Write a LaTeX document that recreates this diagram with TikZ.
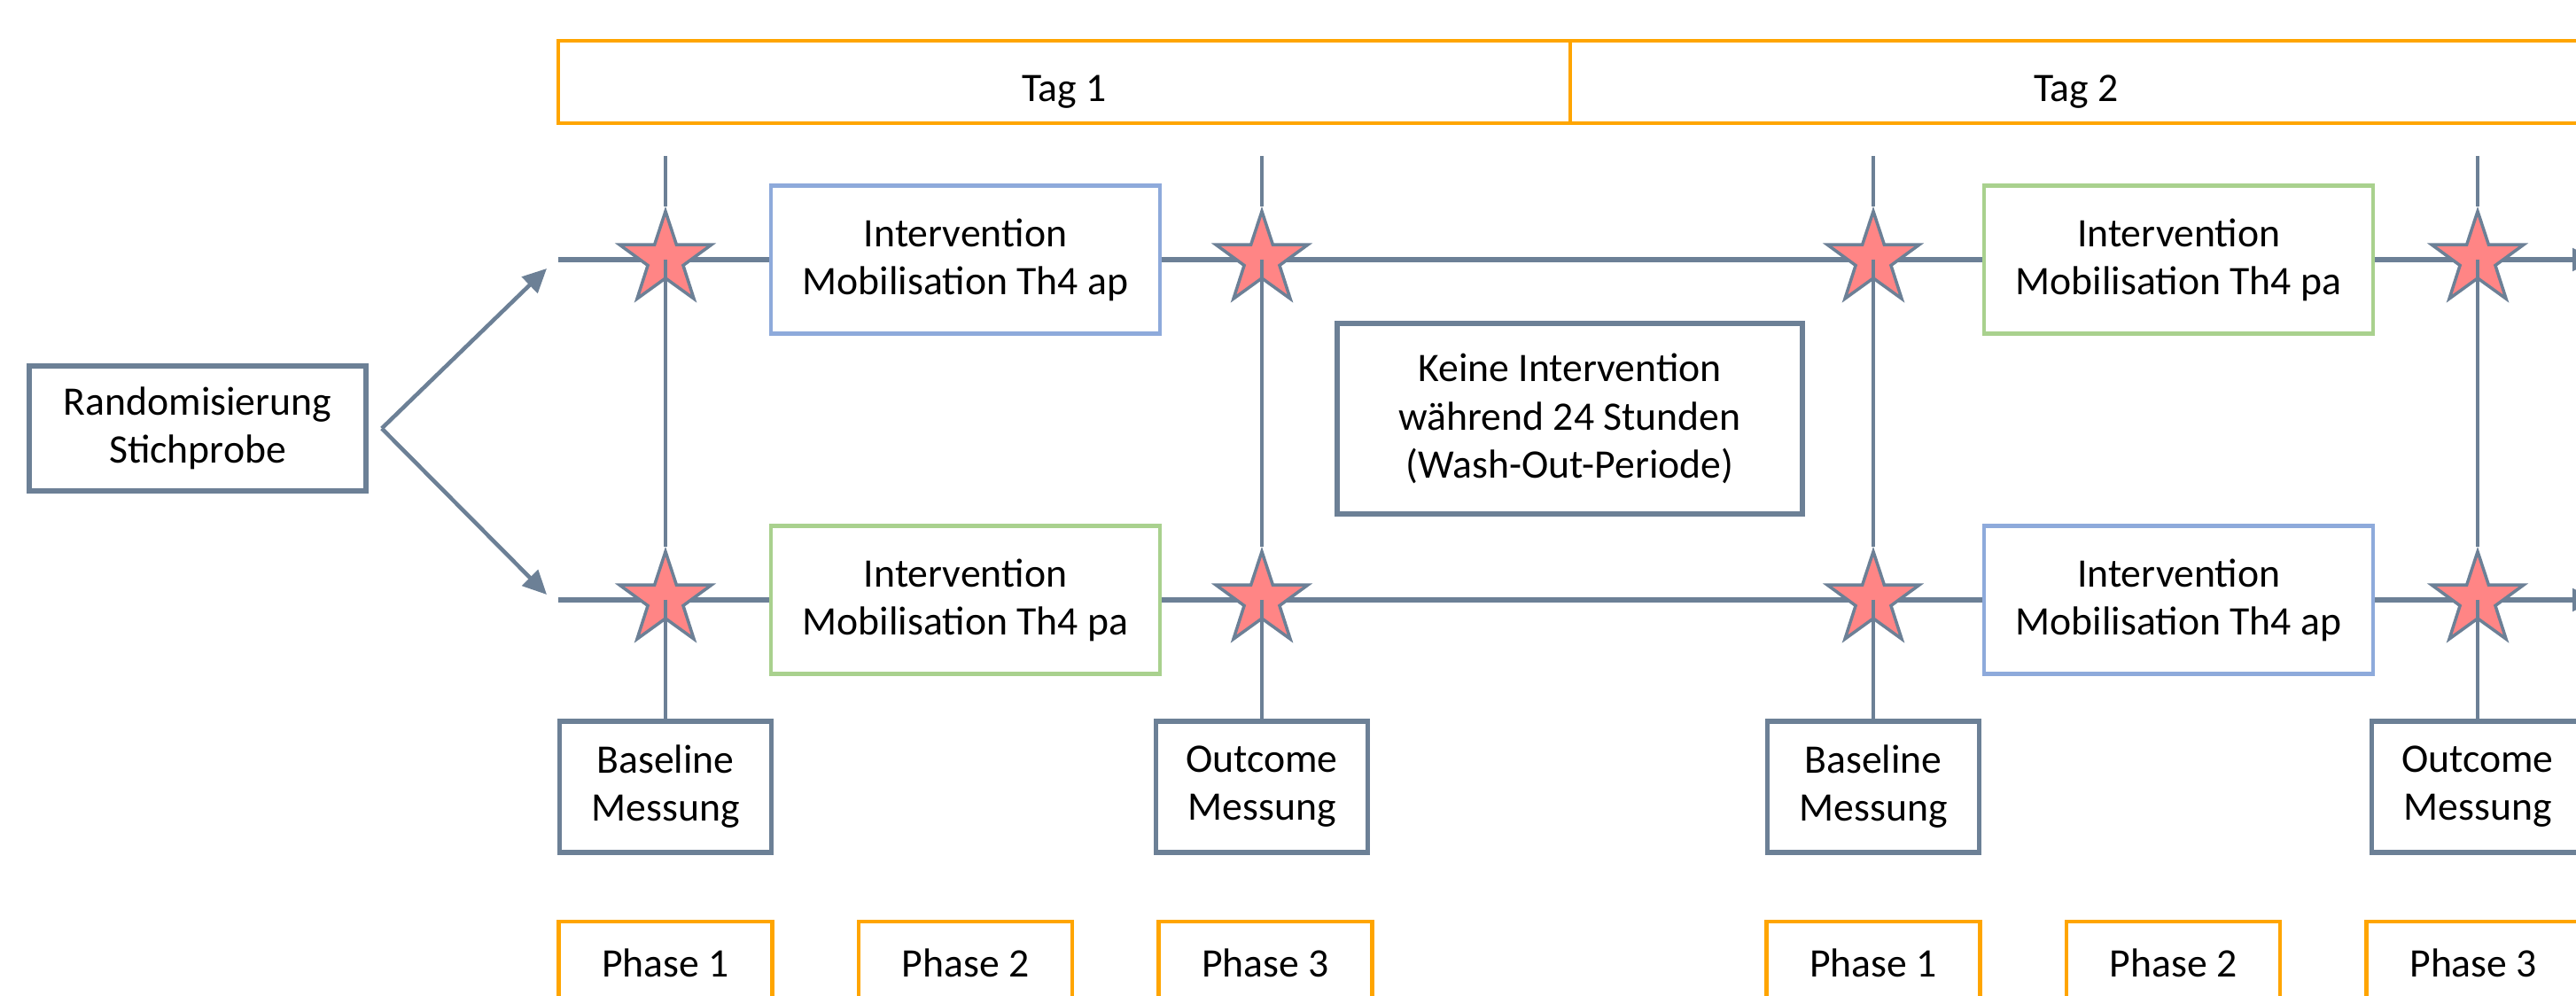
\documentclass[tikz,border=0pt]{standalone}
\usepackage{fontspec}
\setmainfont{Carlito}
\usetikzlibrary{shapes, arrows, arrows.meta, positioning}

\definecolor{slate}{HTML}{6C8096}
\definecolor{tagorange}{HTML}{FFA500}
\definecolor{apblue}{HTML}{8EAADB}
\definecolor{pagreen}{HTML}{A9D18E}
\definecolor{starred}{HTML}{FF8585}

\begin{document}
\begin{tikzpicture}[
        node distance=0.93cm,
        font=\fontsize{13}{15.4}\selectfont,
        lowered/.style={
            execute at begin node={\rule{0pt}{14.5pt}}
        },
        box/.style={
            rectangle,
            draw=slate,
            line width=1.6pt,
            fill=white,
            align=center,
            inner sep=0pt,
            lowered
        },
        messbox/.style={
            box,
            minimum width=2.39cm,
            minimum height=1.48cm
        },
        daybox/.style={
            rectangle,
            draw=tagorange,
            line width=1.3pt,
            outer sep=0pt,
            minimum width=11.42cm,
            minimum height=0.93cm,
            lowered
        },
        phasebox/.style={
            rectangle,
            draw=tagorange,
            line width=1.3pt,
            minimum width=2.41cm,
            minimum height=0.93cm
        },
        intap/.style={
            rectangle,
            draw=apblue,
            line width=1.3pt,
            fill=white,
            align=center,
            minimum width=4.39cm,
            minimum height=1.67cm,
            lowered
        },
        intpa/.style={
            intap,
            draw=pagreen
        },
        starmark/.style={
            star,
            star points=5,
            star point ratio=2.6,
            minimum size=1.09cm,
            inner sep=0pt,
            draw=slate,
            line width=1pt,
            fill=starred
        },
        track/.style={
            draw=slate,
            line width=1.5pt
        },
        pole/.style={
            draw=slate,
            line width=0.9pt
        },
        tip/.style={
            -{Triangle[length=0.27cm, width=0.25cm]}
        },
        split/.style={
            draw=slate,
            line width=1.3pt,
            tip
        }
    ]
        \useasboundingbox (0,0) rectangle (29.07,-11.24);
        \clip (0,0) rectangle (29.07,-11.24);

        % Nodes
        \node [box, minimum width=3.8cm, minimum height=1.41cm] (rand) at (2.23,-4.835) {Randomisierung\\Stichprobe};
        \node [daybox] (tag1) at (12.01,-0.925) {Tag 1};
        \node [daybox, right=0cm of tag1] (tag2) {Tag 2};

        \node [intap] (apA) at (10.895,-2.93) {Intervention\\Mobilisation Th4 ap};
        \node [intpa] (paA) at (24.585,-2.93) {Intervention\\Mobilisation Th4 pa};
        \node [intpa] (paB) at (10.895,-6.77) {Intervention\\Mobilisation Th4 pa};
        \node [intap] (apB) at (24.585,-6.77) {Intervention\\Mobilisation Th4 ap};
        \node [box, minimum width=5.25cm, minimum height=2.15cm] (washout) at (17.715,-4.725) {Keine Intervention\\während 24 Stunden\\(Wash-Out-Periode)};

        \node [messbox] (base1) at (7.51,-8.88) {Baseline\\Messung};
        \node [messbox] (out1) at (14.24,-8.88) {Outcome\\Messung};
        \node [messbox] (base2) at (21.14,-8.88) {Baseline\\Messung};
        \node [messbox] (out2) at (27.96,-8.88) {Outcome\\Messung};

        \node [phasebox, below=0.73cm of base1] (ph1a) {Phase 1};
        \node [phasebox, right=of ph1a] (ph2a) {Phase 2};
        \node [phasebox, right=of ph2a] (ph3a) {Phase 3};
        \node [phasebox, below=0.73cm of base2] (ph1b) {Phase 1};
        \node [phasebox, right=of ph1b] (ph2b) {Phase 2};
        \node [phasebox, right=of ph2b] (ph3b) {Phase 3};

        % Free ends
        \coordinate [right=0.15cm of rand] (fork);
        \coordinate (upper) at (6.17,-3.03);
        \coordinate (lower) at (6.17,-6.71);
        \coordinate (startA) at (6.30,-2.93);
        \coordinate (endA) at (29.30,-2.93);
        \coordinate (startB) at (6.30,-6.77);
        \coordinate (endB) at (29.30,-6.77);
        \coordinate (top1) at (7.51,-1.76);
        \coordinate (top2) at (14.24,-1.76);
        \coordinate (top3) at (21.14,-1.76);
        \coordinate (top4) at (27.96,-1.76);

        % Paths
        \path [split] (fork) -- (upper);
        \path [split] (fork) -- (lower);

        \path [track] (startA) -- (apA);
        \path [track] (apA) -- (paA);
        \path [track, tip] (paA) -- (endA);
        \path [track] (startB) -- (paB);
        \path [track] (paB) -- (apB);
        \path [track, tip] (apB) -- (endB);

        % Measurement points
        \node [starmark] (s1a) at (top1 |- startA) {};
        \node [starmark] (s2a) at (top2 |- startA) {};
        \node [starmark] (s3a) at (top3 |- startA) {};
        \node [starmark] (s4a) at (top4 |- startA) {};
        \node [starmark] (s1b) at (top1 |- startB) {};
        \node [starmark] (s2b) at (top2 |- startB) {};
        \node [starmark] (s3b) at (top3 |- startB) {};
        \node [starmark] (s4b) at (top4 |- startB) {};

        \path [pole] (top1) -- (s1a);
        \path [pole] (s1a.center) -- (s1b);
        \path [pole] (s1b.center) -- (base1);
        \path [pole] (top2) -- (s2a);
        \path [pole] (s2a.center) -- (s2b);
        \path [pole] (s2b.center) -- (out1);
        \path [pole] (top3) -- (s3a);
        \path [pole] (s3a.center) -- (s3b);
        \path [pole] (s3b.center) -- (base2);
        \path [pole] (top4) -- (s4a);
        \path [pole] (s4a.center) -- (s4b);
        \path [pole] (s4b.center) -- (out2);

    \end{tikzpicture}
\end{document}
